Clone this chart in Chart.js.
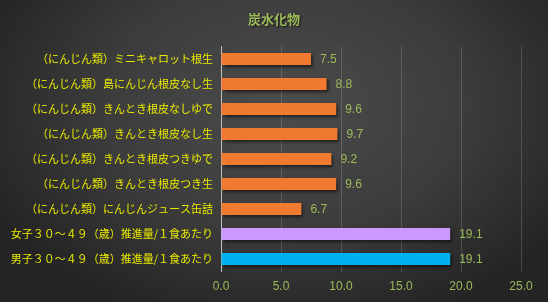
<!DOCTYPE html>
<html>
<head>
<meta charset="utf-8">
<script src="https://cdn.jsdelivr.net/npm/chart.js@4/dist/chart.umd.min.js"></script>
<style>
  html, body { margin: 0; padding: 0; }
  body {
    width: 548px; height: 302px; overflow: hidden;
    background: radial-gradient(ellipse 60% 75% at 52% 35%, #4c4c4c 0%, #3c3c3c 55%, #242424 100%);
  }
  #wrap { position: relative; width: 548px; height: 302px; }
</style>
</head>
<body>
<div id="wrap"><canvas id="carbChart"></canvas></div>
<script>
// Chart data
const categories = [
    '（にんじん類）ミニキャロット根生',
    '（にんじん類）島にんじん根皮なし生',
    '（にんじん類）きんとき根皮なしゆで',
    '（にんじん類）きんとき根皮なし生',
    '（にんじん類）きんとき根皮つきゆで',
    '（にんじん類）きんとき根皮つき生',
    '（にんじん類）にんじんジュース缶詰',
    '女子３０～４９（歳）推進量/１食あたり',
    '男子３０～４９（歳）推進量/１食あたり'
];
const values = [7.5, 8.8, 9.6, 9.7, 9.2, 9.6, 6.7, 19.1, 19.1];
const xTicks = [0, 5, 10, 15, 20, 25];
const barColors = ['#F07A30', '#F07A30', '#F07A30', '#F07A30', '#F07A30', '#F07A30', '#F07A30', '#CC99FF', '#00B0F0'];

const green = '#9BBB59';
const yellow = '#E8E800';

// shadow + value labels + title
const decorPlugin = {
    id: 'decor',
    beforeDatasetsDraw(chart) {
        const ctx = chart.ctx;
        ctx.save();
        ctx.shadowColor = 'rgba(0,0,0,0.6)';
        ctx.shadowOffsetX = 2;
        ctx.shadowOffsetY = 2;
        ctx.shadowBlur = 3;
    },
    afterDatasetsDraw(chart) {
        const ctx = chart.ctx;
        ctx.restore();
        ctx.save();
        ctx.font = '12px "Liberation Sans", sans-serif';
        ctx.fillStyle = green;
        ctx.textBaseline = 'middle';
        chart.getDatasetMeta(0).data.forEach((bar, i) => {
            ctx.fillText(values[i].toFixed(1), bar.x + 9, bar.y + 1);
        });
        // title
        ctx.font = 'bold 13px "Noto Sans CJK JP", sans-serif';
        ctx.textAlign = 'center';
        ctx.shadowColor = 'rgba(0,0,0,0.7)';
        ctx.shadowOffsetX = 1;
        ctx.shadowOffsetY = 1;
        ctx.shadowBlur = 2;
        ctx.fillText('炭水化物', 274, 19);
        ctx.restore();
    }
};

document.addEventListener('DOMContentLoaded', function() {
    const ctx = document.getElementById('carbChart').getContext('2d');
    new Chart(ctx, {
        type: 'bar',
        data: {
            labels: categories,
            datasets: [{
                data: values,
                backgroundColor: barColors,
                barPercentage: 0.96,
                categoryPercentage: 0.5
            }]
        },
        options: {
            indexAxis: 'y',
            responsive: true,
            maintainAspectRatio: false,
            animation: false,
            layout: { padding: { top: 46.5, right: 27, bottom: 0, left: 0 } },
            plugins: {
                legend: { display: false },
                tooltip: { enabled: false }
            },
            scales: {
                x: {
                    min: 0,
                    max: 25,
                    afterBuildTicks: (s) => { s.ticks = xTicks.map(v => ({ value: v })); },
                    afterFit: (s) => { s.height = 30.5; },
                    grid: { color: 'rgba(255,255,255,0.16)', drawTicks: false },
                    border: { display: false },
                    ticks: {
                        padding: 8,
                        color: green,
                        font: { size: 12, family: '"Liberation Sans", sans-serif' },
                        callback: (v) => Number(v).toFixed(1)
                    }
                },
                y: {
                    afterFit: (s) => { s.width = 221; },
                    grid: { display: false, drawTicks: false },
                    border: { display: true, color: '#BFBFBF', width: 1 },
                    ticks: {
                        padding: 8,
                        color: yellow,
                        font: { size: 11, family: '"Noto Sans CJK JP", sans-serif' }
                    }
                }
            }
        },
        plugins: [decorPlugin]
    });
});
</script>
</body>
</html>
